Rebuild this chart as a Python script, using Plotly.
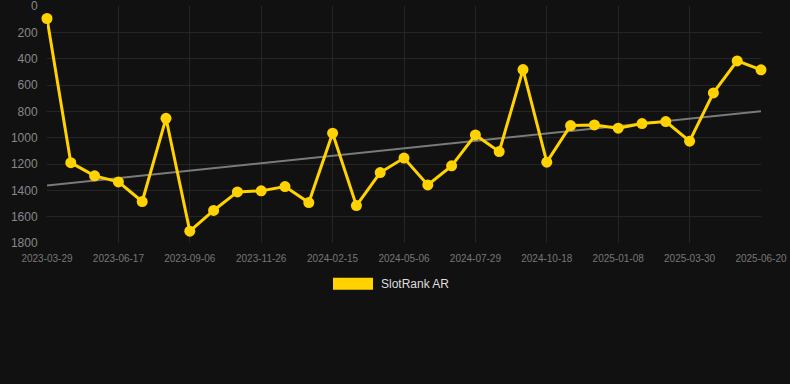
import numpy as np
import plotly.graph_objects as go

dates = [
    "2023-03-29", "2023-04-25", "2023-05-22", "2023-06-17", "2023-07-14", "2023-08-10",
    "2023-09-06", "2023-10-03", "2023-10-30", "2023-11-26", "2023-12-23", "2024-01-19",
    "2024-02-15", "2024-03-13", "2024-04-09", "2024-05-06", "2024-06-02", "2024-07-01",
    "2024-07-29", "2024-08-25", "2024-09-21", "2024-10-18", "2024-11-14", "2024-12-11",
    "2025-01-08", "2025-02-04", "2025-03-03", "2025-03-30", "2025-04-26", "2025-05-23",
    "2025-06-20",
]
rank = [95, 1190, 1290, 1336, 1485, 853, 1710, 1553, 1412, 1404, 1371, 1493, 966, 1516,
        1265, 1155, 1359, 1214, 979, 1106, 483, 1186, 908, 903, 928, 893, 878, 1027, 660,
        417, 485]
tick_labels = dates[::3]
y_ticks = [0, 200, 400, 600, 800, 1000, 1200, 1400, 1600, 1800]
series_name = "SlotRank AR"

YELLOW = "#FFD200"
BG = "#111111"

idx = np.arange(len(rank))
slope, intercept = np.polyfit(idx, rank, 1)
trend = slope * idx + intercept

fig = go.Figure()
fig.add_trace(go.Scatter(
    x=dates, y=trend, mode="lines",
    line=dict(color="#7a7a7a", width=2),
    showlegend=False, hoverinfo="skip",
))
fig.add_trace(go.Scatter(
    x=dates, y=rank, mode="lines+markers", name=series_name,
    line=dict(color=YELLOW, width=3),
    marker=dict(color=YELLOW, size=11),
    cliponaxis=False, showlegend=False,
))

# legend (box + label)
fig.add_shape(type="rect", xref="paper", yref="paper",
              x0=(333 - 47) / 714, x1=(373 - 47) / 714,
              y0=-(278 - 243.3) / 237.3, y1=-(290 - 243.3) / 237.3,
              fillcolor=YELLOW, line=dict(width=0))
fig.add_annotation(xref="paper", yref="paper", x=(379 - 47) / 714, y=-(284 - 243.3) / 237.3,
                   text=series_name, showarrow=False, xanchor="left", yanchor="middle",
                   font=dict(family="Liberation Sans, Arial", size=12, color="#dddddd"))

fig.update_layout(
    width=790, height=384,
    margin=dict(l=47, r=29, t=6, b=384 - 243),
    paper_bgcolor=BG, plot_bgcolor=BG,
    font=dict(family="Liberation Sans, Arial", color="#888888"),
    showlegend=False,
)
fig.update_xaxes(
    type="category", range=[0, len(dates) - 1],
    tickmode="array", tickvals=tick_labels, ticktext=tick_labels,
    tickfont=dict(size=10, color="#777777"),
    showgrid=True, gridcolor="#252525", gridwidth=1,
    zeroline=False, showline=False,
    ticks="outside", ticklen=6, tickcolor=BG,
    ticklabeloverflow="allow", automargin=False,
)
fig.update_yaxes(
    range=[1800, 0], tickmode="array", tickvals=y_ticks,
    tickfont=dict(size=12, color="#888888"),
    showgrid=True, gridcolor="#252525", gridwidth=1,
    zeroline=False, showline=False,
    ticks="outside", ticklen=6, tickcolor=BG,
    ticklabeloverflow="allow", automargin=False,
)

fig.write_html("out.html")
